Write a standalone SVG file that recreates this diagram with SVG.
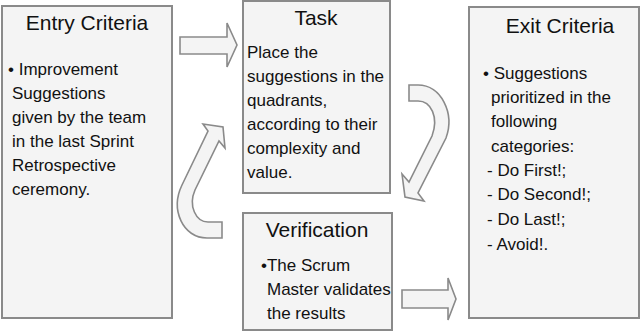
<svg xmlns="http://www.w3.org/2000/svg" width="640" height="331" viewBox="0 0 640 331">
<style>
.box{fill:#f4f4f4;stroke:#8a8a8a;stroke-width:2}
.arr{fill:#f4f4f4;stroke:#8a8a8a;stroke-width:1.6;stroke-linejoin:miter}
.title{font-family:"Liberation Sans",Arial,sans-serif;font-size:21px;fill:#111;text-anchor:middle}
.body{font-family:"Liberation Sans",Arial,sans-serif;font-size:17px;fill:#111}
</style>
<rect width="640" height="331" fill="#ffffff"/>
<g id="connectors">
<path class="arr" d="M180,37 L227,37 L227,23 L237,45 L227,67 L227,54 L180,54 Z"/>
<path class="arr" d="M402,290 L448,290 L448,278 L456,299 L448,320 L448,308 L402,308 Z"/>
<path class="arr" d="M409,85 L418,85 C441,85 455,113 446,138 L418,193 L424,201 L405,197 L402,174 L409,182 L432,136 C439,117 431,101 418,101 L409,101 Z"/>
<path class="arr" d="M222,238 L207,238 C183,238 170,210 182,185 L208,131 L203,124 L223,127 L225,148 L219,141 L195,190 C188,206 196,222 208,222 L222,222 Z"/>
</g>
<g id="entry">
<rect class="box" x="2" y="6" width="170" height="312"/>
<text class="title" x="87" y="30">Entry Criteria</text>
<text class="body" x="8" y="75">• Improvement</text>
<text class="body" x="12" y="99">Suggestions</text>
<text class="body" x="12" y="123">given by the team</text>
<text class="body" x="12" y="147">in the last Sprint</text>
<text class="body" x="12" y="171">Retrospective</text>
<text class="body" x="12" y="195">ceremony.</text>
</g>
<g id="task">
<rect class="box" x="243" y="1" width="147" height="192"/>
<text class="title" x="316" y="25">Task</text>
<text class="body" x="247" y="58">Place the</text>
<text class="body" x="247" y="82">suggestions in the</text>
<text class="body" x="247" y="106">quadrants,</text>
<text class="body" x="247" y="130">according to their</text>
<text class="body" x="247" y="154">complexity and</text>
<text class="body" x="247" y="178">value.</text>
</g>
<g id="verification">
<rect class="box" x="243" y="213" width="149" height="117"/>
<text class="title" x="317" y="237">Verification</text>
<text class="body" x="261" y="271">•The Scrum</text>
<text class="body" x="267" y="295">Master validates</text>
<text class="body" x="267" y="319">the results</text>
</g>
<g id="exit">
<rect class="box" x="469" y="7" width="170" height="311"/>
<text class="title" x="560" y="33">Exit Criteria</text>
<text class="body" x="483" y="79">• Suggestions</text>
<text class="body" x="491" y="103">prioritized in the</text>
<text class="body" x="491" y="127">following</text>
<text class="body" x="491" y="152">categories:</text>
<text class="body" x="487" y="176">- Do First!;</text>
<text class="body" x="487" y="200">- Do Second!;</text>
<text class="body" x="487" y="225">- Do Last!;</text>
<text class="body" x="487" y="250">- Avoid!.</text>
</g>
</svg>
